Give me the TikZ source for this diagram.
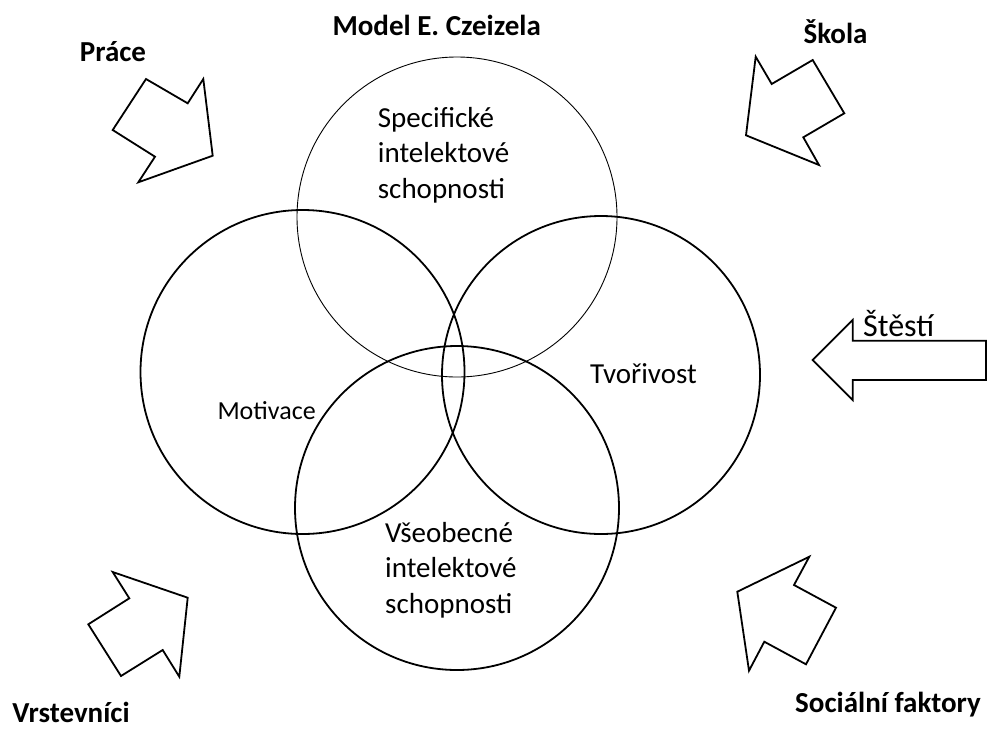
\documentclass[tikz,border=0pt]{standalone}
\usepackage{fontspec}
\setmainfont{Carlito}
\usetikzlibrary{positioning}
\tikzset{ring/.style={draw,line width=1.8pt},
         thinring/.style={draw,line width=0.9pt},
         bigarrow/.style={draw,line width=1.8pt,line join=miter},
         factor/.style={inner sep=0pt,font=\fontsize{29}{36}\selectfont\bfseries},
         trait/.style={inner sep=0pt,align=left,font=\fontsize{29}{35.5}\selectfont}}

\begin{document}
\begin{tikzpicture}[x=1pt,y=-1pt]
    \useasboundingbox (0,0) rectangle (988,729);
    % Circles
    \draw[thinring] (457,217) circle[radius=160pt];
    \draw[ring] (302.5,372) circle[radius=162pt];
    \draw[ring] (601,375) circle[radius=159pt];
    \draw[ring] (457,508) circle[radius=162pt];
    % Circle texts
    \node (spec) at (377.7,198) [trait,anchor=base west]{Specifické\\intelektové\\schopnosti};
    \node (mot) at (217.3,419.3) [trait,anchor=base west,font=\fontsize{26}{32}\selectfont]{Motivace};
    \node (tvor) at (590,383.3) [trait,anchor=base west]{Tvořivost};
    \node (vseo) at (385,613.3) [trait,anchor=base west]{Všeobecné\\intelektové\\schopnosti};
    % Factors
    \node (title) at (436.7,35) [factor,anchor=base]{Model E. Czeizela};
    \node (prace) at (113,61) [factor,anchor=base]{Práce};
    \node (skola) at (835.5,43) [factor,anchor=base]{Škola};
    \node (vrst) at (71,722) [factor,anchor=base]{Vrstevníci};
    \node (soc) at (888,712) [factor,anchor=base]{Sociální faktory};
    \node (stesti) at (863,336) [inner sep=0pt,anchor=base west,font=\fontsize{32}{38}\selectfont]{Štěstí};
    % Block arrows
    \draw[bigarrow] (146,79) -- (187.7,103.3) -- (203.3,79) -- (212.7,155.7) -- (138.3,182.3) -- (155,156.7) -- (112.7,130) -- cycle;
    \draw[bigarrow] (755.7,56.7) -- (771.7,84) -- (812.7,60) -- (844.3,113.3) -- (803.3,137.3) -- (819,165) -- (746,135.3) -- cycle;
    \draw[bigarrow] (812.7,360) -- (852.7,320) -- (852.7,340.7) -- (986,340.7) -- (986,380) -- (852.7,380) -- (852.7,400) -- cycle;
    \draw[bigarrow] (112.7,572) -- (187.7,597.7) -- (179.3,676.7) -- (162.7,650) -- (121,676) -- (88.3,624.3) -- (129.3,598.3) -- cycle;
    \draw[bigarrow] (809.3,556.7) -- (794,585) -- (836,607.7) -- (806,664.3) -- (764.3,641.7) -- (749,670.7) -- (737.3,591.7) -- cycle;
\end{tikzpicture}
\end{document}
